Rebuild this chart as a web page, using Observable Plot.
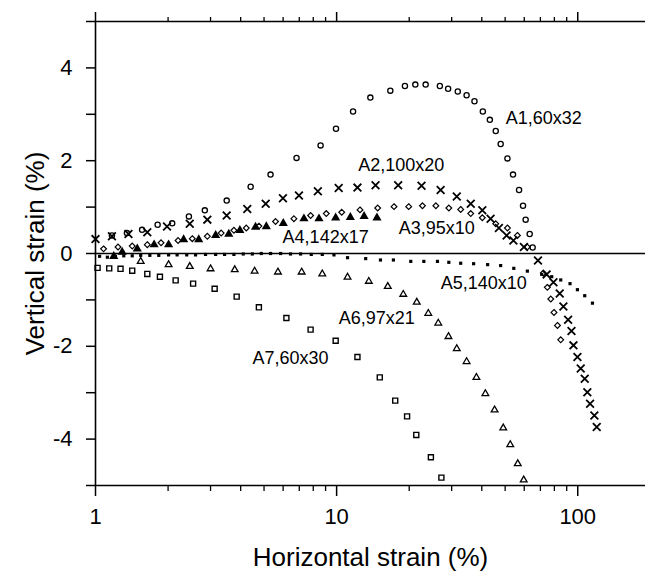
<!DOCTYPE html>
<html><head><meta charset="utf-8">
<script src="https://cdn.jsdelivr.net/npm/d3@7"></script>
<script src="https://cdn.jsdelivr.net/npm/@observablehq/plot@0.6"></script>
<style>body{margin:0;background:#fff}</style>
</head><body><div id="chart"></div>
<script>
// ---- data ----
const a1X = [1.17,1.35,1.56,1.81,2.08,2.44,2.84,3.50,4.40,5.32,6.82,8.58,9.94,11.7,13.8,16.7,19.2,21.2,23.4,26.8,29.0,31.8,34.6,37.3,40.4,43.2,45.7,47.9,51.1,53.9,57.1,59.3,60.8,63.2,65.0];
const a1Y = [0.39,0.44,0.51,0.62,0.65,0.80,0.93,1.14,1.44,1.70,2.06,2.33,2.69,3.06,3.36,3.51,3.61,3.64,3.64,3.61,3.55,3.49,3.41,3.28,3.06,2.88,2.64,2.36,2.05,1.70,1.37,1.03,0.73,0.42,0.13];

const a2X = [1.0,1.17,1.37,1.64,1.98,2.46,2.91,3.50,4.26,5.08,5.99,6.98,8.36,10.2,12.2,14.5,18.0,22.5,27.0,31.5,36.0,40.2,43.5,47.1,50.7,54.1,59.8,68.4,74.3,79.3,84.2,87.2,91.2,94.2,96.0,99.7,102.9,106.9,109.6,112.5,117.2,119.9];
const a2Y = [0.31,0.37,0.42,0.46,0.58,0.64,0.73,0.82,0.96,1.07,1.19,1.25,1.34,1.41,1.42,1.47,1.47,1.46,1.37,1.23,1.07,0.93,0.75,0.55,0.39,0.28,0.14,-0.15,-0.45,-0.62,-0.86,-1.14,-1.43,-1.67,-1.98,-2.23,-2.48,-2.70,-2.99,-3.24,-3.49,-3.74];

const a3X = [1.08,1.24,1.42,1.64,1.87,2.20,2.52,2.91,3.32,3.75,4.22,4.76,5.58,6.65,7.80,9.06,10.5,12.5,14.8,17.3,19.9,22.7,25.8,29.2,32.7,36.0,40.2,45.7,51.1,56.2,61.8,72.0,74.8,77.3,79.7,82.4,85.0];
const a3Y = [0.10,0.14,0.16,0.19,0.23,0.28,0.32,0.37,0.44,0.50,0.55,0.59,0.69,0.75,0.82,0.86,0.89,0.94,0.98,1.01,1.01,1.03,1.03,0.98,0.95,0.86,0.77,0.64,0.55,0.39,0.14,-0.42,-0.73,-0.98,-1.27,-1.55,-1.86];

const a4X = [1.19,1.29,1.49,1.75,2.01,2.32,2.68,3.15,3.57,3.97,4.61,5.11,6.01,7.32,8.45,9.91,11.4,13.0,14.7];
const a4Y = [-0.06,0.03,0.10,0.19,0.19,0.30,0.30,0.39,0.42,0.50,0.57,0.58,0.65,0.75,0.75,0.77,0.78,0.80,0.77];

const a5X = [1.04,1.12,1.21,1.31,1.42,1.54,1.68,1.83,2.01,2.18,2.39,2.60,2.86,3.15,3.43,3.75,4.10,4.47,4.87,5.32,5.86,6.44,7.09,7.85,8.72,9.75,11.1,13.2,15.2,17.2,20.3,23.0,26.2,29.2,32.7,37.0,42.3,47.9,54.3,61.8,70.9,78.0,85.0,92.9,99.7,106.9,115.1];
const a5Y = [-0.06,-0.08,-0.06,-0.05,-0.05,-0.04,-0.04,-0.04,-0.03,-0.03,-0.03,-0.03,-0.02,-0.02,-0.02,-0.02,-0.01,-0.01,0.0,0.0,0.0,-0.01,-0.01,-0.02,-0.02,-0.03,-0.09,-0.11,-0.14,-0.14,-0.17,-0.17,-0.17,-0.19,-0.21,-0.22,-0.24,-0.26,-0.32,-0.38,-0.45,-0.50,-0.57,-0.65,-0.78,-0.91,-1.07];

const a6X = [1.54,2.01,2.46,3.00,3.78,4.57,5.71,7.16,8.72,11.1,13.6,16.3,18.9,21.5,24.0,26.4,29.1,31.5,34.6,38.0,41.4,45.2,49.1,52.5,56.4,59.7];
const a6Y = [-0.17,-0.24,-0.28,-0.33,-0.35,-0.38,-0.40,-0.40,-0.44,-0.51,-0.60,-0.71,-0.88,-1.05,-1.29,-1.50,-1.79,-2.05,-2.33,-2.67,-3.02,-3.37,-3.76,-4.12,-4.53,-4.88];

const a7X = [1.02,1.14,1.27,1.42,1.64,1.85,2.15,2.54,3.12,3.85,4.76,6.19,7.80,9.91,12.2,15.1,17.5,19.6,21.4,24.6,27.2];
const a7Y = [-0.31,-0.32,-0.33,-0.37,-0.44,-0.50,-0.58,-0.65,-0.76,-0.93,-1.16,-1.39,-1.64,-1.88,-2.23,-2.67,-3.17,-3.51,-3.91,-4.39,-4.83];

const labelText = ["A1,60x32","A2,100x20","A3,95x10","A4,142x17","A5,140x10","A6,97x21","A7,60x30"];
const labelX    = [50.3, 12.3, 18.1, 5.97, 27.0, 10.2, 4.48];
const labelY    = [2.91, 1.90, 0.54, 0.34, -0.65, -1.40, -2.26];

const xMajorTicks = [1, 10, 100];
const xMinorTicks = [2,3,4,5,6,7,8,9,20,30,40,50,60,70,80,90];
const yTicks = [-5,-4,-3,-2,-1,0,1,2,3,4,5];
const yTickLabels = [-4,-2,0,2,4];
const xTitle = "Horizontal strain (%)";
const yTitle = "Vertical strain (%)";

// ---- build ----
const pts = (xs, ys) => xs.map((x, i) => ({x, y: ys[i]}));
const font = "'Liberation Sans', Arial, Helvetica, sans-serif";

const chart = Plot.plot({
  width: 645, height: 580,
  marginLeft: 95, marginRight: 0, marginTop: 21, marginBottom: 95,
  style: {fontFamily: font, color: "#000", background: "#fff", overflow: "visible"},
  x: {type: "log", domain: [1, 191], label: null},
  y: {domain: [-5, 5], label: null},
  marks: [
    Plot.ruleY([-5, 5], {stroke: "#000", strokeWidth: 1.6}),
    Plot.ruleX([1], {stroke: "#000", strokeWidth: 1.6}),
    Plot.ruleY([0], {stroke: "#000", strokeWidth: 1.4}),
    Plot.axisX(xMajorTicks, {anchor: "bottom", tickSize: 11, tickPadding: 12, fontSize: 22, strokeWidth: 1.5, tickFormat: d => String(d), label: null}),
    Plot.axisX(xMinorTicks, {anchor: "bottom", tickSize: 6, strokeWidth: 1.3, tickFormat: () => "", label: null}),
    Plot.axisX(xMajorTicks, {anchor: "top", tickSize: 10, strokeWidth: 1.5, tickFormat: () => "", label: null}),
    Plot.axisX(xMinorTicks, {anchor: "top", tickSize: 5, strokeWidth: 1.3, tickFormat: () => "", label: null}),
    Plot.axisY(yTicks, {anchor: "left", tickSize: 9, tickPadding: 14, fontSize: 22, strokeWidth: 1.5,
      tickFormat: d => yTickLabels.includes(d) ? String(d) : "", label: null}),
    Plot.dot(pts(a5X, a5Y), {x: "x", y: "y", symbol: "square", r: 1.8, fill: "#000"}),
    Plot.dot(pts(a1X, a1Y), {x: "x", y: "y", symbol: "circle", r: 2.6, stroke: "#000", fill: "none", strokeWidth: 1.3}),
    Plot.dot(pts(a2X, a2Y), {x: "x", y: "y", symbol: "times", r: 3.6, stroke: "#000", strokeWidth: 1.8}),
    Plot.dot(pts(a3X, a3Y), {x: "x", y: "y", symbol: "diamond2", r: 2.6, stroke: "#000", fill: "none", strokeWidth: 1.2}),
    Plot.dot(pts(a4X, a4Y), {x: "x", y: "y", symbol: "triangle", r: 3.4, fill: "#000"}),
    Plot.dot(pts(a6X, a6Y), {x: "x", y: "y", symbol: "triangle2", r: 3.2, stroke: "#000", fill: "none", strokeWidth: 1.3}),
    Plot.dot(pts(a7X, a7Y), {x: "x", y: "y", symbol: "square2", r: 3.2, stroke: "#000", fill: "none", strokeWidth: 1.4}),
    Plot.text(labelText.map((t, i) => ({t, x: labelX[i], y: labelY[i]})),
      {x: "x", y: "y", text: "t", textAnchor: "start", fontSize: 18, fill: "#000"}),
    Plot.text([xTitle], {frameAnchor: "bottom", textAnchor: "middle", lineAnchor: "middle", dy: 72, fontSize: 26, fill: "#000"}),
    Plot.text([yTitle], {frameAnchor: "left", textAnchor: "middle", lineAnchor: "middle", dx: -60, rotate: -90, fontSize: 26, fill: "#000"})
  ]
});
document.getElementById("chart").appendChild(chart);
</script>
</body></html>
